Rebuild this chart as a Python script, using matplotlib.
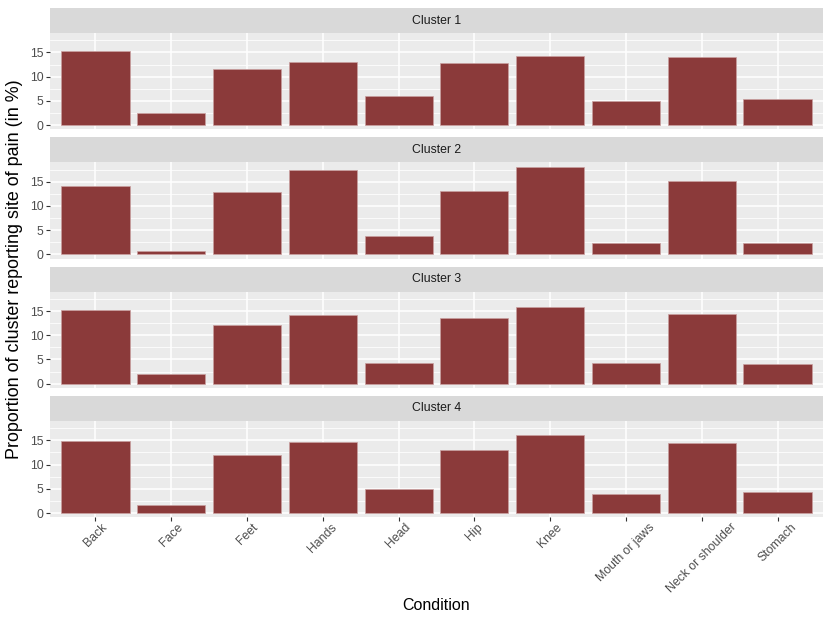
#!/usr/bin/env python3
"""Faceted bar chart: share of each cluster reporting a site of pain."""

import matplotlib

matplotlib.use("Agg")
import matplotlib.pyplot as plt
from matplotlib.ticker import MultipleLocator

plt.rcParams["font.family"] = ["Liberation Sans", "DejaVu Sans"]

CONDITIONS = [
    "Back", "Face", "Feet", "Hands", "Head",
    "Hip", "Knee", "Mouth or jaws", "Neck or shoulder", "Stomach",
]
CLUSTERS = ["Cluster 1", "Cluster 2", "Cluster 3", "Cluster 4"]

CLUSTER_1 = [15.2, 2.6, 11.5, 13.1, 6.1, 12.9, 14.2, 4.9, 14.0, 5.4]
CLUSTER_2 = [14.2, 0.8, 12.9, 17.5, 3.7, 13.0, 18.1, 2.4, 15.2, 2.4]
CLUSTER_3 = [15.2, 2.0, 12.2, 14.2, 4.3, 13.5, 15.9, 4.2, 14.3, 4.0]
CLUSTER_4 = [14.9, 1.6, 11.9, 14.7, 4.9, 13.0, 16.0, 4.0, 14.4, 4.4]
VALUES = [CLUSTER_1, CLUSTER_2, CLUSTER_3, CLUSTER_4]

BAR_COLOR = "#8B3A3A"
PANEL_BG = "#EBEBEB"
STRIP_BG = "#D9D9D9"
TICK_TEXT = "#4D4D4D"

W, H = 830, 623
fig = plt.figure(figsize=(W / 100, H / 100), dpi=100)

left, right = 50, 823
first_top, step = 8, 129.3
strip_h, panel_h = 25, 96.5

ymax = max(max(v) for v in VALUES)
ylim = (-0.05 * ymax, 1.05 * ymax)
xs = list(range(len(CONDITIONS)))

for k, (name, vals) in enumerate(zip(CLUSTERS, VALUES)):
    top = first_top + k * step
    # strip
    sax = fig.add_axes([left / W, 1 - (top + strip_h) / H, (right - left) / W, strip_h / H])
    sax.set_facecolor(STRIP_BG)
    sax.set_xticks([])
    sax.set_yticks([])
    for sp in sax.spines.values():
        sp.set_visible(False)
    sax.text(0.5, 0.5, name, ha="center", va="center", fontsize=8.8,
             color="#1A1A1A", transform=sax.transAxes)

    # panel
    ptop = top + strip_h
    ax = fig.add_axes([left / W, 1 - (ptop + panel_h) / H, (right - left) / W, panel_h / H])
    ax.set_facecolor(PANEL_BG)
    for sp in ax.spines.values():
        sp.set_visible(False)
    ax.bar(xs, vals, width=0.9, color=BAR_COLOR, edgecolor="#c9a0a0",
           linewidth=0.5, zorder=3)
    ax.set_xlim(-0.6, len(CONDITIONS) - 0.4)
    ax.set_ylim(*ylim)
    ax.yaxis.set_major_locator(MultipleLocator(5))
    ax.yaxis.set_minor_locator(MultipleLocator(2.5))
    ax.set_xticks(xs)
    ax.grid(True, which="major", color="white", linewidth=1.1, zorder=1)
    ax.grid(True, which="minor", axis="y", color="white", linewidth=0.55, zorder=1)
    ax.tick_params(axis="y", which="major", length=2.75, width=0.8, color="#333333",
                   labelsize=8.8, labelcolor=TICK_TEXT, pad=2)
    ax.tick_params(axis="y", which="minor", length=0)
    if k < len(CLUSTERS) - 1:
        ax.tick_params(axis="x", length=0, labelbottom=False)
    else:
        ax.tick_params(axis="x", length=2.75, width=0.8, color="#333333",
                       labelsize=8.8, labelcolor=TICK_TEXT, pad=0)
        ax.set_xticklabels(CONDITIONS, rotation=45, ha="center", va="top")
        ax.set_xlabel("Condition", fontsize=11.5, labelpad=2)

fig.text(15 / W, 1 - 269 / H, "Proportion of cluster reporting site of pain (in %)",
         rotation=90, ha="center", va="center", fontsize=12.9)

fig.savefig("out.png", dpi=100, facecolor="white")
